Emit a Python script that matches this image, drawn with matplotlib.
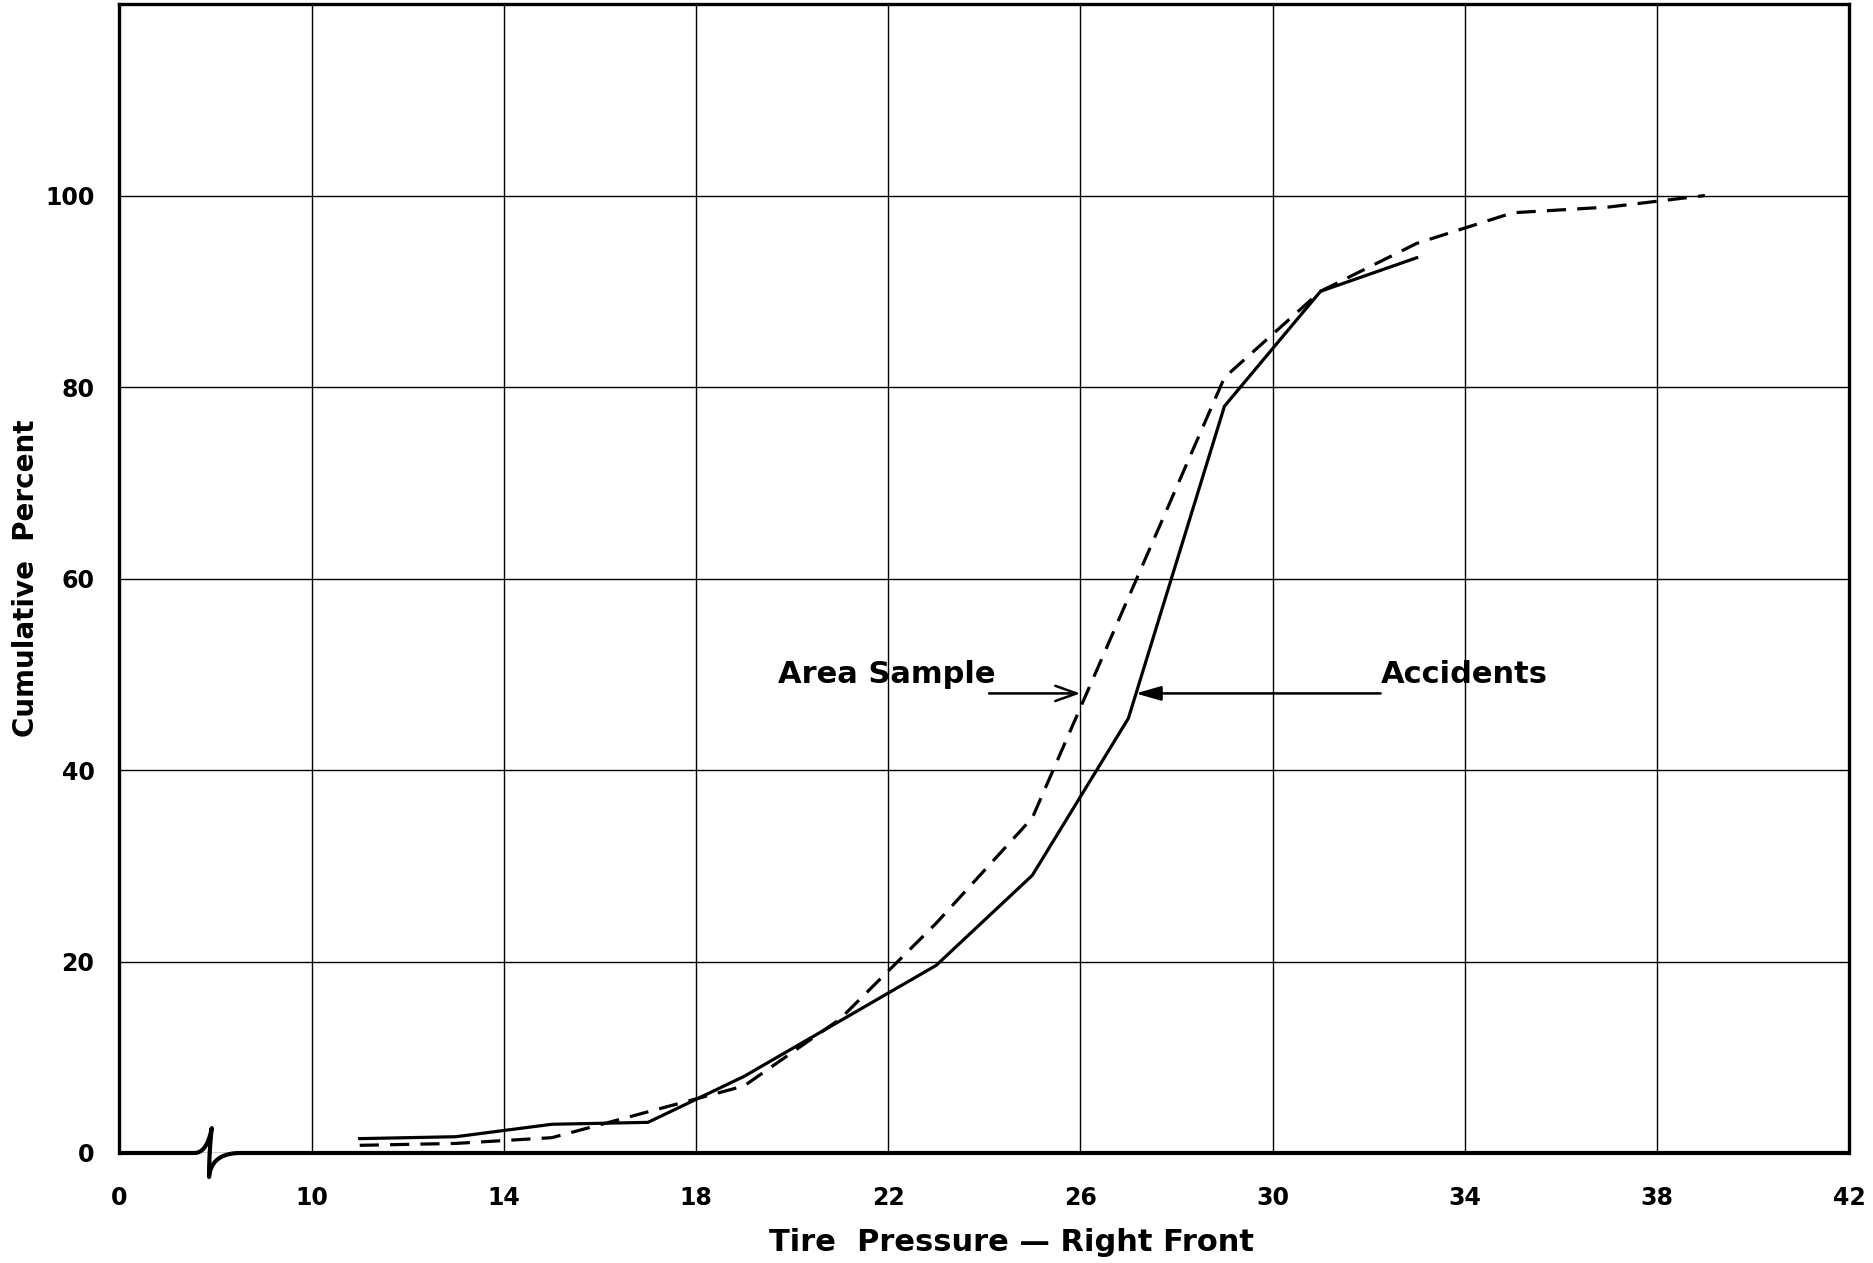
import numpy as np
import matplotlib
matplotlib.use("Agg")
import matplotlib.pyplot as plt

# Data (tire pressure in psi, cumulative percent)
accident_psi = [11, 13, 15, 17, 19, 21, 23, 25, 27, 29, 31, 33]
accident_pct = [1.5, 1.7, 3.0, 3.2, 8.0, 13.8, 19.6, 29.0, 45.4, 78.0, 90.0, 93.5]

sample_psi = [11, 13, 15, 17, 19, 21, 23, 25, 27, 29, 31, 33, 35, 37, 39]
sample_pct = [0.8, 1.0, 1.6, 4.3, 7.0, 14.0, 24.0, 35.0, 58.0, 81.0, 90.0, 95.0, 98.2, 98.8, 100.0]

x_ticks = [0, 10, 14, 18, 22, 26, 30, 34, 38, 42]
y_ticks = [0, 20, 40, 60, 80, 100]


# broken x axis: 0-10 squeezed into one grid cell, then 4 psi per cell
def fwd(p):
    p = np.asarray(p, dtype=float)
    return np.where(p >= 10, (p - 6) / 4.0, p / 10.0)


def inv(i):
    i = np.asarray(i, dtype=float)
    return np.where(i >= 1, i * 4.0 + 6, i * 10.0)


def qbez(p0, p1, p2, n=30):
    t = np.linspace(0, 1, n)[:, None]
    p0, p1, p2 = np.array(p0), np.array(p1), np.array(p2)
    return (1 - t) ** 2 * p0 + 2 * (1 - t) * t * p1 + t ** 2 * p2


plt.rcParams['font.family'] = ['DejaVu Sans']
plt.rcParams['font.weight'] = 'bold'
plt.rcParams['axes.labelweight'] = 'bold'

fig = plt.figure(figsize=(18.73, 12.63), dpi=100)
ax = fig.add_axes([0.0638, 0.0871, 0.9234, 0.9097])

ax.set_xscale('function', functions=(fwd, inv))
ax.set_xlim(0, 42)
ax.set_ylim(0, 120)
ax.set_xticks(x_ticks)
ax.set_xticklabels([str(v) for v in x_ticks])
ax.set_yticks(y_ticks)
ax.set_yticklabels([str(v) for v in y_ticks])
ax.tick_params(length=0, labelsize=17, colors='black')
ax.tick_params(axis='x', pad=24)
ax.tick_params(axis='y', pad=18)
ax.grid(True, color='black', linewidth=1.0)
ax.set_axisbelow(True)

for side in ['left', 'top', 'right']:
    ax.spines[side].set_linewidth(2.4)
ax.spines['bottom'].set_visible(False)

# bottom axis line with the break symbol
seg = [np.array([[0, 0], [3.9, 0]]),
       qbez((3.9, 0), (4.55, 0), (4.8, 2.6)),
       qbez((4.8, 2.6), (4.66, 0), (4.66, -2.5)),
       qbez((4.66, -2.5), (4.78, 0), (6.3, 0)),
       np.array([[6.3, 0], [42, 0]])]
brk = np.vstack(seg)
ax.plot(brk[:, 0], brk[:, 1], color='black', linewidth=3.0, clip_on=False,
        solid_capstyle='butt', zorder=5)

# the two curves
ax.plot(accident_psi, accident_pct, color='black', linewidth=2.3, zorder=4)
ax.plot(sample_psi, sample_pct, color='black', linewidth=2.3,
        linestyle=(0, (6, 3.5)), zorder=4)

# labels with arrows
ax.text(19.7, 50.0, 'Area Sample', fontsize=22, va='center', ha='left')
ax.annotate('', xy=(26.0, 48.0), xytext=(24.1, 48.0),
            arrowprops=dict(arrowstyle='->,head_length=0.7,head_width=0.25',
                            color='black', lw=1.8,
                            mutation_scale=22, shrinkA=0, shrinkB=0))
ax.text(32.25, 50.0, 'Accidents', fontsize=22, va='center', ha='left')
ax.annotate('', xy=(27.15, 48.0), xytext=(32.25, 48.0),
            arrowprops=dict(arrowstyle='-|>,head_length=0.7,head_width=0.2',
                            color='black', lw=1.8,
                            mutation_scale=22, shrinkA=0, shrinkB=0))

ax.set_xlabel('Tire  Pressure — Right Front', fontsize=22, va='center')
ax.xaxis.set_label_coords(0.516, -0.0775)
ax.set_ylabel('Cumulative  Percent', fontsize=20, va='center')
ax.yaxis.set_label_coords(-0.054, 0.5)

plt.savefig('out.png', dpi=100, facecolor='white')
